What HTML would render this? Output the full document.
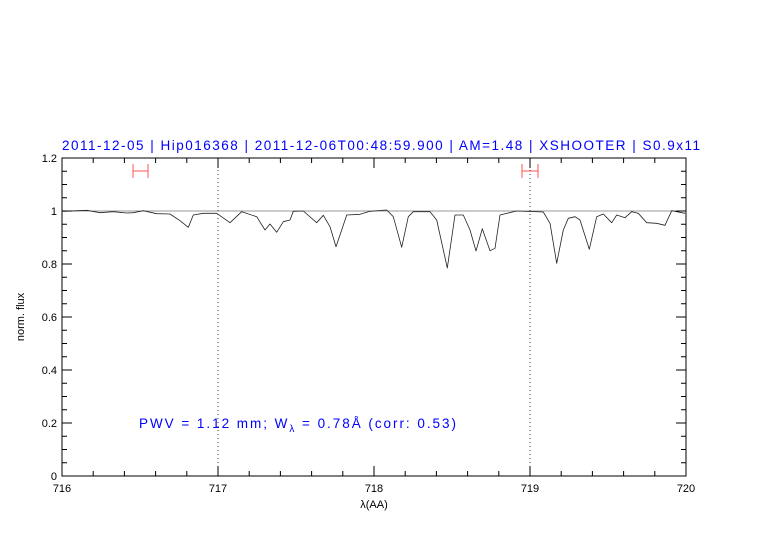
<!DOCTYPE html>
<html><head><style>body{margin:0;background:#fff}</style></head><body>
<svg width="782" height="542" xmlns="http://www.w3.org/2000/svg" font-family="Liberation Sans, sans-serif">
<rect width="782" height="542" fill="#fff"/>
<text x="62" y="150" font-size="13.5" fill="#0000ff" textLength="638">2011-12-05 | Hip016368 | 2011-12-06T00:48:59.900 | AM=1.48 | XSHOOTER | S0.9x11</text>
<line x1="62" y1="211" x2="686" y2="211" stroke="#999" stroke-width="1"/>
<line x1="218" y1="158" x2="218" y2="476" stroke="#333" stroke-dasharray="1,3"/>
<line x1="530" y1="158" x2="530" y2="476" stroke="#333" stroke-dasharray="1,3"/>
<g stroke="#f55" stroke-width="1"><line x1="133" y1="171" x2="148" y2="171"/><line x1="133" y1="164" x2="133" y2="178"/><line x1="148" y1="164" x2="148" y2="178"/>
<line x1="522" y1="171" x2="538" y2="171"/><line x1="522" y1="164" x2="522" y2="178"/><line x1="538" y1="164" x2="538" y2="178"/></g>
<polyline fill="none" stroke="#222" stroke-width="0.8" stroke-linejoin="round" points="63.3,211.3 86.7,210.3 100,212.7 113.3,211.7 126.7,213 133.3,212.7 143.3,210.7 156.7,213.7 170,214 180,220.7 188.3,227.3 193.3,215 203.3,213.3 216.7,213.3 230,222.7 241.7,211.7 256.7,216.7 265,230 270,224 276.7,232.3 283.3,221.7 290,220 293.3,211.3 303.3,211 316.7,222.7 323.3,215.3 330,226.7 336,246.7 341.7,230 346.7,215 360,214.3 370,211.3 386.7,210 393.3,216.7 401.7,247.3 408.3,216.7 413.3,211.7 430,211.7 436.7,220 447.3,268 455,215 463.3,215 470,230 476,251 482.3,228.7 490,250.7 495,248.3 500,215 516.7,211 543.3,212 550,223.3 556.7,263.3 563.3,230 568.3,218.3 575,216.7 580,220 589.3,249.3 596.7,216.7 603.3,214 611.7,222.7 616.7,215 625,217.7 631.7,211.7 638.3,213.3 646.7,222.7 656.7,223.3 665,225.3 671.7,210.7 685,213.3"/>
<rect x="62" y="158" width="624" height="318" fill="none" stroke="#000" stroke-width="1"/>
<g stroke="#000" stroke-width="1">
<path d="M62,476v-10M218,476v-10M374,476v-10M530,476v-10M686,476v-10M62,158v10M218,158v10M374,158v10M530,158v10M686,158v10
M93.2,476v-5M124.4,476v-5M155.6,476v-5M186.8,476v-5M249.2,476v-5M280.4,476v-5M311.6,476v-5M342.8,476v-5M405.2,476v-5M436.4,476v-5M467.6,476v-5M498.8,476v-5M561.2,476v-5M592.4,476v-5M623.6,476v-5M654.8,476v-5
M93.2,158v5M124.4,158v5M155.6,158v5M186.8,158v5M249.2,158v5M280.4,158v5M311.6,158v5M342.8,158v5M405.2,158v5M436.4,158v5M467.6,158v5M498.8,158v5M561.2,158v5M592.4,158v5M623.6,158v5M654.8,158v5
M62,423h10M62,370h10M62,317h10M62,264h10M62,211h10M686,423h-10M686,370h-10M686,317h-10M686,264h-10M686,211h-10
M62,462.75h5M62,449.5h5M62,436.25h5M62,409.75h5M62,396.5h5M62,383.25h5M62,356.75h5M62,343.5h5M62,330.25h5M62,303.75h5M62,290.5h5M62,277.25h5M62,250.75h5M62,237.5h5M62,224.25h5M62,197.75h5M62,184.5h5M62,171.25h5
M686,462.75h-5M686,449.5h-5M686,436.25h-5M686,409.75h-5M686,396.5h-5M686,383.25h-5M686,356.75h-5M686,343.5h-5M686,330.25h-5M686,303.75h-5M686,290.5h-5M686,277.25h-5M686,250.75h-5M686,237.5h-5M686,224.25h-5M686,197.75h-5M686,184.5h-5M686,171.25h-5"/>
</g>
<g font-size="11" fill="#000" text-anchor="end">
<text x="57" y="480">0</text><text x="57" y="427">0.2</text><text x="57" y="374">0.4</text><text x="57" y="321">0.6</text><text x="57" y="268">0.8</text><text x="57" y="215">1</text><text x="57" y="162">1.2</text>
</g>
<g font-size="11" fill="#000" text-anchor="middle">
<text x="62" y="492">716</text><text x="218" y="492">717</text><text x="374" y="492">718</text><text x="530" y="492">719</text><text x="686" y="492">720</text>
<text x="374" y="508">λ(AA)</text>
<text transform="translate(24,317) rotate(-90)">norm. flux</text>
</g>
<text x="139" y="428" font-size="13.5" fill="#0000ff" textLength="317">PWV = 1.12 mm; W<tspan font-size="10" dy="4">λ</tspan><tspan dy="-4"> = 0.78Å (corr: 0.53)</tspan></text>
</svg>
</body></html>
